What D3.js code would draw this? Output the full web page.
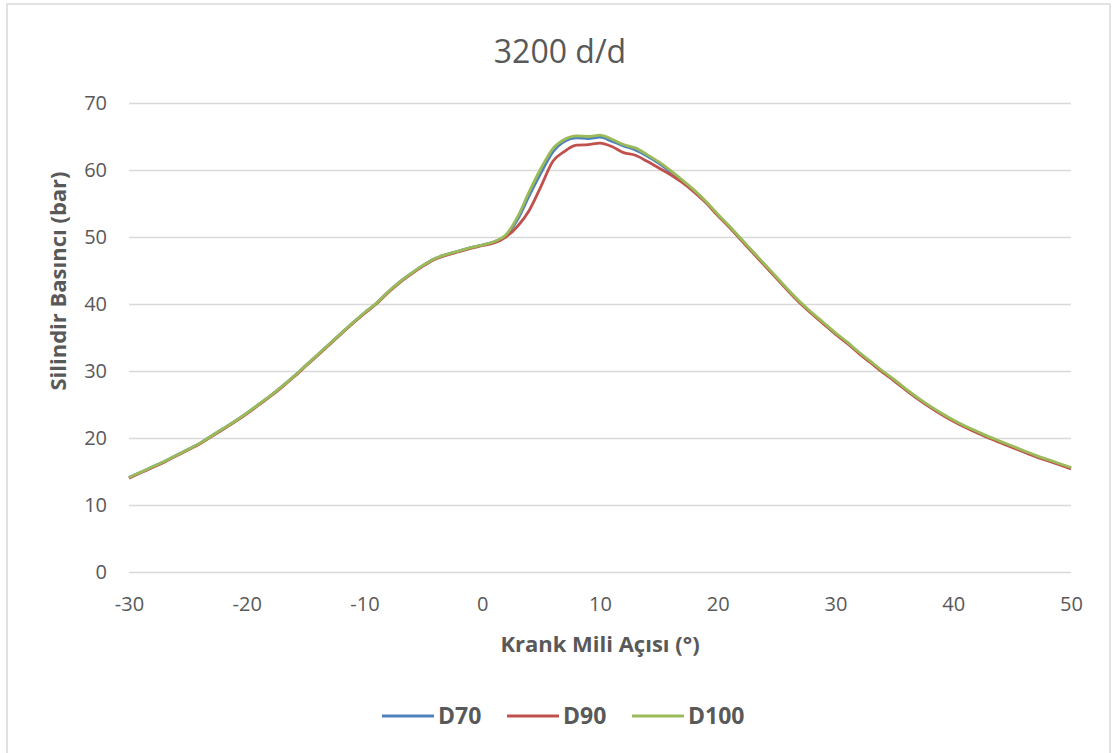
<!DOCTYPE html>
<html>
<head>
<meta charset="utf-8">
<script src="https://cdn.jsdelivr.net/npm/d3@7/dist/d3.min.js"></script>
<style>
  body { margin: 0; background: #fff; }
  text { font-family: "Open Sans", sans-serif; fill: #595959; }
</style>
</head>
<body>
<div id="chart"></div>
<script>
// crank angle (deg), one value per degree
var angles = d3.range(-30, 51);

var d70 = [
  14.1, 14.9, 15.7, 16.5, 17.4, 18.3, 19.2, 20.3, 21.4, 22.5,
  23.7, 25.0, 26.3, 27.7, 29.2, 30.8, 32.4, 34.0, 35.6, 37.2,
  38.7, 40.1, 41.8, 43.3, 44.6, 45.8, 46.8, 47.4, 47.9, 48.4,
  48.8, 49.3, 50.2, 52.6, 56.2, 59.6, 62.7, 64.3, 64.8, 64.7,
  64.9, 64.3, 63.6, 63.0, 62.1, 61.0, 59.7, 58.4, 56.9, 55.2,
  53.3, 51.5, 49.6, 47.7, 45.8, 43.9, 42.0, 40.2, 38.6, 37.1,
  35.6, 34.2, 32.7, 31.3, 29.9, 28.6, 27.2, 25.9, 24.7, 23.6,
  22.6, 21.7, 20.9, 20.1, 19.4, 18.7, 18.0, 17.3, 16.7, 16.1,
  15.5
];
var d90 = [
  14.0, 14.8, 15.6, 16.4, 17.3, 18.2, 19.1, 20.2, 21.3, 22.4,
  23.6, 24.9, 26.2, 27.6, 29.1, 30.7, 32.3, 33.9, 35.5, 37.1,
  38.6, 40.0, 41.7, 43.2, 44.5, 45.7, 46.7, 47.3, 47.8, 48.3,
  48.7, 49.1, 50.0, 51.6, 54.0, 57.6, 61.3, 62.8, 63.7, 63.8,
  64.0, 63.5, 62.6, 62.2, 61.3, 60.3, 59.3, 58.1, 56.7, 55.1,
  53.2, 51.4, 49.5, 47.6, 45.7, 43.8, 41.9, 40.1, 38.5, 37.0,
  35.5, 34.1, 32.6, 31.2, 29.8, 28.5, 27.1, 25.8, 24.6, 23.5,
  22.5, 21.6, 20.8, 20.0, 19.3, 18.6, 17.9, 17.2, 16.6, 16.0,
  15.4
];
var d100 = [
  14.1, 14.9, 15.7, 16.5, 17.4, 18.3, 19.2, 20.3, 21.4, 22.5,
  23.7, 25.0, 26.3, 27.7, 29.2, 30.8, 32.4, 34.0, 35.6, 37.2,
  38.7, 40.1, 41.8, 43.3, 44.6, 45.8, 46.8, 47.4, 47.9, 48.4,
  48.8, 49.3, 50.3, 53.0, 56.8, 60.3, 63.2, 64.6, 65.1, 65.0,
  65.2, 64.6, 63.8, 63.3, 62.3, 61.2, 59.9, 58.5, 57.0, 55.3,
  53.4, 51.6, 49.7, 47.8, 45.9, 44.0, 42.1, 40.3, 38.7, 37.2,
  35.7, 34.3, 32.8, 31.4, 30.0, 28.7, 27.3, 26.0, 24.8, 23.7,
  22.7, 21.8, 21.0, 20.2, 19.5, 18.8, 18.1, 17.4, 16.8, 16.2,
  15.6
];

var seriesNames = ["D70", "D90", "D100"];
var seriesColors = ["#4F81BD", "#C0504D", "#9BBB59"];
var xTicks = [-30, -20, -10, 0, 10, 20, 30, 40, 50];
var yTicks = [0, 10, 20, 30, 40, 50, 60, 70];

var W = 1115, H = 753;
var margin = {top: 103, right: 44, bottom: 181, left: 129},
    width = W - margin.left - margin.right,
    height = H - margin.top - margin.bottom;

var svg = d3.select("#chart")
  .append("svg")
    .attr("width", W)
    .attr("height", H);

// chart frame
svg.append("rect")
  .attr("x", 7).attr("y", 4)
  .attr("width", 1103).attr("height", 760)
  .attr("fill", "#fff")
  .attr("stroke", "#d9d9d9")
  .attr("stroke-width", 1.5);

var g = svg.append("g")
  .attr("transform", "translate(" + margin.left + "," + margin.top + ")");

var x = d3.scaleLinear().domain([-30, 50]).range([0, width]);
var y = d3.scaleLinear().domain([0, 70]).range([height, 0]);

// grid lines
g.append("g")
  .call(d3.axisLeft(y).tickValues(yTicks).tickSize(-width).tickFormat(""))
  .call(function(s) { s.select(".domain").remove(); })
  .selectAll("line")
    .attr("stroke", "#d9d9d9")
    .attr("stroke-width", 1.5);

// y axis labels
g.append("g")
  .attr("transform", "translate(-19,0)")
  .call(d3.axisLeft(y).tickValues(yTicks).tickSize(0))
  .call(function(s) { s.select(".domain").remove(); })
  .selectAll("text")
    .style("font-size", "20px")
    .attr("fill", "#595959");

// x axis labels (plain hyphen for negatives, like the source)
g.append("g")
  .attr("transform", "translate(0," + (height + 22) + ")")
  .call(d3.axisBottom(x).tickValues(xTicks).tickSize(0)
    .tickFormat(function(d) { return String(d); }))
  .call(function(s) { s.select(".domain").remove(); })
  .selectAll("text")
    .style("font-size", "20px")
    .attr("fill", "#595959");

svg.selectAll(".tick text").attr("font-family", null);

// title
svg.append("text")
  .attr("x", 560)
  .attr("y", 63)
  .attr("text-anchor", "middle")
  .style("font-size", "32px")
  .text("3200 d/d");

// axis titles
svg.append("text")
  .attr("x", 600)
  .attr("y", 652)
  .attr("text-anchor", "middle")
  .style("font-size", "22px")
  .style("font-weight", "bold")
  .text("Krank Mili Açısı (°)");

svg.append("text")
  .attr("transform", "translate(66,281) rotate(-90)")
  .attr("text-anchor", "middle")
  .style("font-size", "22px")
  .style("font-weight", "bold")
  .text("Silindir Basıncı (bar)");

// series lines
var series = [d70, d90, d100];
var line = d3.line()
  .x(function(d, i) { return x(angles[i]); })
  .y(function(d) { return y(d); })
  .curve(d3.curveMonotoneX);

series.forEach(function(vals, k) {
  g.append("path")
    .datum(vals)
    .attr("fill", "none")
    .attr("stroke", seriesColors[k])
    .attr("stroke-width", 2.8)
    .attr("stroke-linejoin", "round")
    .attr("d", line);
});

// legend
var legendX = [382, 507, 632];
var legend = svg.append("g");
seriesNames.forEach(function(name, k) {
  legend.append("line")
    .attr("x1", legendX[k]).attr("x2", legendX[k] + 52)
    .attr("y1", 716).attr("y2", 716)
    .attr("stroke", seriesColors[k])
    .attr("stroke-width", 2.8);
  legend.append("text")
    .attr("x", legendX[k] + 56)
    .attr("y", 724)
    .style("font-size", "23px")
    .style("font-weight", "bold")
    .text(name);
});
</script>
</body>
</html>
